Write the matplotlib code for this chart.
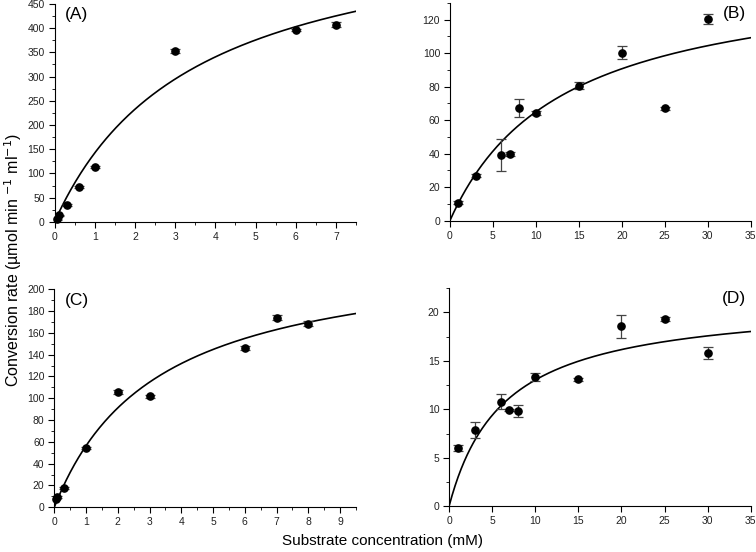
import matplotlib
matplotlib.use('Agg')
import matplotlib.pyplot as plt
import numpy as np
from matplotlib.ticker import MultipleLocator

plt.rcParams['font.family'] = ['Liberation Sans', 'DejaVu Sans']

# panel A
a_x = [0.05, 0.1, 0.3, 0.6, 1, 3, 6, 7]
a_y = [5.5, 13.5, 35, 72, 114, 352, 396, 407]
a_err = [1, 1, 2, 2, 2, 4, 3, 5]
a_vmax, a_km = 636, 3.47

# panel B
b_x = [1, 3, 6, 7, 8, 10, 15, 20, 25, 30]
b_y = [10.9, 26.9, 39.2, 39.6, 67.1, 64.3, 80.6, 100.3, 67.1, 120.4]
b_err = [0.8, 1.0, 9.8, 1.2, 5.5, 1.2, 2.3, 3.7, 0.8, 2.9]
b_vmax, b_km = 150, 13.1

# panel C
c_x = [0.05, 0.1, 0.3, 1, 2, 3, 6, 7, 8]
c_y = [8, 9.2, 17.7, 54.4, 105.8, 101.8, 146.5, 174, 168.5]
c_err = [0.8, 0.8, 1.0, 1.2, 2.2, 1.5, 1.8, 2.6, 2.0]
c_vmax, c_km = 238, 3.22

# panel D
d_x = [1, 3, 6, 7, 8, 10, 15, 20, 25, 30]
d_y = [6.03, 7.86, 10.8, 9.93, 9.83, 13.34, 13.1, 18.55, 19.3, 15.8]
d_err = [0.3, 0.86, 0.8, 0.1, 0.6, 0.45, 0.15, 1.2, 0.2, 0.65]
d_vmax, d_km = 21.3, 6.36

panels = [
    ('(A)', a_x, a_y, a_err, a_vmax, a_km, 7.5, 450, 1, 0.5, 50, 25, 'left'),
    ('(B)', b_x, b_y, b_err, b_vmax, b_km, 35, 130, 5, None, 20, 10, 'right'),
    ('(C)', c_x, c_y, c_err, c_vmax, c_km, 9.5, 200, 1, 0.5, 20, 10, 'left'),
    ('(D)', d_x, d_y, d_err, d_vmax, d_km, 35, 22.5, 5, None, 5, 2.5, 'right'),
]

boxes = [
    [0.0721, 0.598, 0.399, 0.395],
    [0.595, 0.600, 0.398, 0.395],
    [0.0718, 0.081, 0.399, 0.395],
    [0.594, 0.083, 0.399, 0.395],
]

fig = plt.figure(figsize=(7.56, 5.52), dpi=100)

for box, (lab, x, y, err, vmax, km, xmax, ymax, xmaj, xmin, ymaj, ymin, side) in zip(boxes, panels):
    ax = fig.add_axes(box)
    xs = np.linspace(0, xmax, 300)
    ax.plot(xs, vmax * xs / (km + xs), color='black', lw=1.2, zorder=2)
    ax.errorbar(x, y, yerr=err, fmt='none', ecolor='#444444', elinewidth=0.9,
                capsize=3.5, capthick=0.9, zorder=3)
    ax.plot(x, y, 'o', color='black', ms=5.2, zorder=4, clip_on=False)
    ax.set_xlim(0, xmax)
    ax.set_ylim(0, ymax)
    ax.spines['top'].set_visible(False)
    ax.spines['right'].set_visible(False)
    ax.xaxis.set_major_locator(MultipleLocator(xmaj))
    if xmin:
        ax.xaxis.set_minor_locator(MultipleLocator(xmin))
    ax.yaxis.set_major_locator(MultipleLocator(ymaj))
    ax.yaxis.set_minor_locator(MultipleLocator(ymin))
    ax.tick_params(which='major', direction='out', length=4, width=0.8, labelsize=7.5,
                   pad=3, labelcolor='#222222')
    ax.tick_params(which='minor', direction='out', length=2, width=0.6)
    if side == 'left':
        ax.text(0.035, 0.985, lab, transform=ax.transAxes, fontsize=12.5, va='top', ha='left')
    else:
        ax.text(0.985, 0.985, lab, transform=ax.transAxes, fontsize=12.5, va='top', ha='right')

fig.text(0.017, 0.53, 'Conversion rate (µmol min $^{-1}$ ml$^{-1}$)', rotation=90,
         ha='center', va='center', fontsize=11.5)
fig.text(0.506, 0.02, 'Substrate concentration (mM)', ha='center', va='center', fontsize=11)

fig.savefig('out.png', dpi=100)
